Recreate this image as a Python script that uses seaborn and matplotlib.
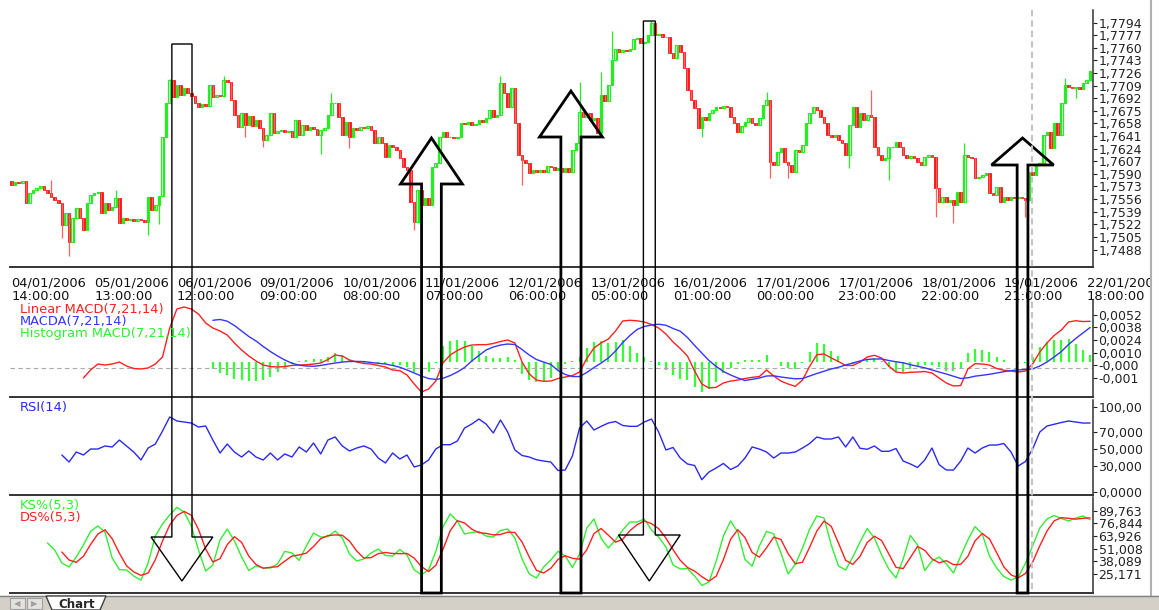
import numpy as np
import pandas as pd
import matplotlib
matplotlib.use("Agg")
import matplotlib.pyplot as plt
import seaborn as sns
from matplotlib.patches import Polygon, Rectangle
from matplotlib.transforms import blended_transform_factory

# hourly candles from 04/01/2006 14:00, one per hour
first_open = 1.7580
closes = [
    1.7575, 1.7579, 1.7578, 1.7580, 1.7551, 1.7564, 1.7568, 1.7571, 1.7574, 1.7568,
    1.7564, 1.7559, 1.7555, 1.7551, 1.7521, 1.7537, 1.7498, 1.7530, 1.7544, 1.7530,
    1.7514, 1.7551, 1.7561, 1.7564, 1.7565, 1.7537, 1.7551, 1.7541, 1.7545, 1.7557,
    1.7524, 1.7530, 1.7528, 1.7529, 1.7526, 1.7529, 1.7528, 1.7525, 1.7559, 1.7541,
    1.7548, 1.7560, 1.7640, 1.7686, 1.7717, 1.7694, 1.7710, 1.7696, 1.7706, 1.7699,
    1.7695, 1.7686, 1.7680, 1.7684, 1.7682, 1.7710, 1.7694, 1.7696, 1.7695, 1.7717,
    1.7714, 1.7690, 1.7669, 1.7653, 1.7672, 1.7656, 1.7668, 1.7655, 1.7663, 1.7652,
    1.7636, 1.7642, 1.7672, 1.7645, 1.7648, 1.7649, 1.7646, 1.7648, 1.7640, 1.7663,
    1.7642, 1.7656, 1.7649, 1.7653, 1.7650, 1.7642, 1.7649, 1.7652, 1.7669, 1.7686,
    1.7686, 1.7667, 1.7642, 1.7660, 1.7640, 1.7652, 1.7649, 1.7653, 1.7652, 1.7655,
    1.7649, 1.7632, 1.7640, 1.7632, 1.7613, 1.7629, 1.7626, 1.7622, 1.7611, 1.7599,
    1.7595, 1.7552, 1.7525, 1.7568, 1.7548, 1.7557, 1.7548, 1.7599, 1.7605, 1.7640,
    1.7646, 1.7640, 1.7640, 1.7638, 1.7640, 1.7659, 1.7657, 1.7660, 1.7656, 1.7657,
    1.7663, 1.7660, 1.7665, 1.7676, 1.7667, 1.7669, 1.7713, 1.7699, 1.7680, 1.7706,
    1.7659, 1.7615, 1.7609, 1.7605, 1.7591, 1.7595, 1.7592, 1.7595, 1.7592, 1.7600,
    1.7599, 1.7595, 1.7598, 1.7592, 1.7598, 1.7592, 1.7622, 1.7632, 1.7673, 1.7667,
    1.7672, 1.7663, 1.7665, 1.7645, 1.7696, 1.7688, 1.7710, 1.7744, 1.7758, 1.7754,
    1.7757, 1.7756, 1.7758, 1.7772, 1.7773, 1.7767, 1.7768, 1.7777, 1.7794, 1.7777,
    1.7779, 1.7775, 1.7775, 1.7753, 1.7746, 1.7764, 1.7754, 1.7733, 1.7703, 1.7690,
    1.7679, 1.7652, 1.7667, 1.7663, 1.7672, 1.7676, 1.7680, 1.7679, 1.7682, 1.7680,
    1.7667, 1.7659, 1.7646, 1.7655, 1.7660, 1.7665, 1.7659, 1.7656, 1.7665, 1.7683,
    1.7690, 1.7606, 1.7602, 1.7619, 1.7625, 1.7606, 1.7602, 1.7592, 1.7622, 1.7619,
    1.7629, 1.7659, 1.7672, 1.7680, 1.7676, 1.7667, 1.7659, 1.7642, 1.7640, 1.7642,
    1.7636, 1.7632, 1.7615, 1.7656, 1.7680, 1.7653, 1.7672, 1.7663, 1.7669, 1.7667,
    1.7626, 1.7615, 1.7609, 1.7611, 1.7626, 1.7626, 1.7633, 1.7626, 1.7615, 1.7611,
    1.7614, 1.7611, 1.7606, 1.7602, 1.7613, 1.7615, 1.7613, 1.7571, 1.7552, 1.7559,
    1.7552, 1.7555, 1.7548, 1.7565, 1.7552, 1.7615, 1.7613, 1.7611, 1.7584, 1.7586,
    1.7588, 1.7591, 1.7564, 1.7561, 1.7572, 1.7552, 1.7559, 1.7555, 1.7559, 1.7557,
    1.7559, 1.7557, 1.7555, 1.7592, 1.7588, 1.7602, 1.7605, 1.7642, 1.7646, 1.7625,
    1.7659, 1.7642, 1.7686, 1.7710, 1.7707, 1.7706, 1.7707, 1.7704, 1.7713, 1.7717,
    1.7729,
]
# the long wicks
highs = {11: 1.7582, 29: 1.7568, 44: 1.7718, 59: 1.7722, 89: 1.7699, 136: 1.7722,
         158: 1.7714, 164: 1.7727, 167: 1.7783, 178: 1.7796, 210: 1.7700,
         239: 1.7703, 265: 1.7632, 293: 1.7719}
lows = {14: 1.7503, 16: 1.7479, 38: 1.7507, 41: 1.7522, 65: 1.7640, 70: 1.7626,
        86: 1.7617, 94: 1.7625, 112: 1.7514, 142: 1.7575, 192: 1.7640, 211: 1.7584,
        216: 1.7584, 233: 1.7598, 244: 1.7582, 257: 1.7532, 262: 1.7524,
        282: 1.7532, 296: 1.7692}

# indicators, read every second candle
step = 2
macd_start = 10
macd_e4 = [
    -18.3, -9.4, -2.8, -3.9, -2.8, -0.6, -5.0, -7.8, -8.3, -7.2,
    -2.8, 5.0, 37.2, 58.3, 60.6, 58.3, 52.8, 42.8, 37.2, 33.9,
    29.4, 20.6, 12.8, 6.1, 0.6, -3.9, -5.6, -6.1, -5.6, -4.4,
    -3.9, -3.6, -2.8, -1.7, 2.2, 7.2, 6.1, 1.7, -0.6, -2.2,
    -2.8, -4.4, -6.1, -9.4, -10.2, -15.0, -25.0, -33.9, -30.6, -21.7,
    -1.7, 7.2, 12.2, 16.1, 18.3, 18.7, 18.7, 20.0, 22.2, 23.9,
    20.6, -0.6, -13.9, -20.6, -22.0, -21.7, -18.9, -17.2, -15.6, -11.7,
    3.3, 15.0, 20.6, 25.0, 33.9, 45.0, 45.8, 45.2, 43.9, 41.1,
    37.2, 30.6, 21.7, 14.4, 6.1, -10.6, -25.0, -29.4, -28.7, -23.9,
    -21.7, -20.6, -18.9, -17.6, -16.7, -9.4, -16.1, -21.7, -25.0, -27.6,
    -20.6, -5.3, 7.6, 8.3, 3.9, 0.0, -4.4, -4.4, -0.6, 5.0,
    6.9, 3.9, -5.0, -11.7, -12.8, -12.0, -11.7, -11.1, -12.8, -18.3,
    -23.9, -27.2, -26.7, -8.3, -2.4, -2.8, -3.9, -7.8, -9.7, -10.6,
    -11.7, -10.6, -2.8, 10.6, 20.6, 28.9, 35.0, 43.9, 45.3, 44.4, 44.7,
]
signal_start = 28
signal_e4 = [
    45.8, 46.7,
    44.8, 40.0, 33.9, 27.8, 22.8, 16.7, 11.1, 6.1, 1.7, -1.9,
    -4.1, -5.0, -5.3, -4.4, -3.0, -1.7, -0.6, 0.0, 0.1, -0.1,
    -1.1, -2.0, -2.8, -4.4, -6.4, -9.4, -12.8, -16.1, -18.9, -20.0,
    -18.7, -15.6, -11.7, -6.7, 0.6, 6.7, 12.8, 16.1, 18.3, 19.4,
    18.9, 13.3, 7.2, 2.2, -0.6, -3.3, -10.0, -14.4, -16.7, -16.7,
    -12.2, -6.7, -1.7, 3.9, 11.7, 21.1, 28.9, 35.6, 38.9, 40.6,
    41.4, 40.3, 36.7, 33.6, 26.7, 17.8, 9.4, 1.1, -5.6, -11.1,
    -15.0, -18.3, -21.1, -19.8, -18.3, -16.1, -15.9, -17.2, -18.3, -19.2,
    -18.9, -16.1, -13.3, -10.8, -8.3, -6.4, -3.9, -1.7, 0.6, 2.3,
    2.8, 2.8, 1.1, -0.3, -1.4, -3.6, -5.3, -7.0, -9.4, -11.7,
    -13.9, -16.4, -18.9, -18.1, -16.3, -15.3, -14.2, -12.8, -11.3, -10.1,
    -9.4, -8.9, -8.3, -5.0, -0.6, 5.0, 11.1, 18.9, 25.6, 31.7, 37.8,
]
rsi_start = 7
rsi = [
    43.2, 34.9, 46.7,
    43.2, 50.2, 50.2, 53.8, 52.6, 60.8, 53.8, 46.7, 37.3, 51.4,
    56.1, 71.4, 87.9, 83.2, 82.0, 80.8, 76.1, 77.3, 60.8, 45.5,
    56.1, 46.7, 40.8, 47.9, 40.8, 37.3, 45.5, 37.3, 44.4, 40.8,
    52.6, 46.7, 57.3, 44.4, 60.8, 64.4, 53.8, 47.9, 51.4, 53.8,
    50.2, 39.6, 33.8, 45.5, 38.5, 43.2, 29.1, 31.4, 37.3, 50.2,
    55.3, 55.3, 59.6, 74.9, 79.6, 85.5, 79.6, 69.1, 84.4, 70.2,
    49.1, 42.6, 40.8, 37.6, 36.1, 34.9, 24.9, 25.5, 42.0, 74.9,
    83.2, 72.6, 76.9, 80.8, 82.6, 77.9, 76.9, 76.9, 82.0, 85.5,
    70.2, 49.1, 52.0, 39.6, 32.6, 30.8, 14.1, 23.2, 27.9, 33.2,
    26.1, 30.2, 39.6, 52.6, 50.2, 46.7, 39.6, 45.5, 45.5, 46.7,
    51.4, 56.7, 64.4, 62.0, 62.0, 64.4, 52.6, 64.4, 51.1, 49.9,
    53.8, 47.5, 47.5, 50.8, 36.1, 32.6, 28.5, 37.3, 51.4, 31.8,
    25.5, 25.5, 36.1, 51.4, 45.5, 51.4, 54.9, 54.9, 56.7, 46.7,
    30.2, 35.5, 50.2, 70.2, 77.3, 79.4, 81.4, 83.2, 82.0, 80.8, 80.8,
]
k_start = 5
ks = [
    56.8, 49.7, 36.4, 32.3, 42.5,
    54.8, 68.7, 74.2, 68.0, 41.5, 29.6, 29.3, 23.1, 19.0, 36.4,
    63.9, 76.2, 85.4, 93.2, 88.4, 74.2, 49.7, 28.2, 34.4, 59.9,
    71.1, 58.8, 42.5, 28.7, 33.3, 31.3, 31.3, 35.4, 48.3, 46.6,
    39.0, 53.7, 67.0, 62.9, 63.2, 69.0, 61.9, 45.6, 38.4, 40.5,
    46.6, 50.7, 44.1, 43.5, 50.2, 44.6, 29.3, 24.5, 29.3, 48.1,
    73.1, 86.4, 79.3, 66.0, 67.5, 68.5, 63.9, 62.9, 69.6, 71.1,
    61.9, 40.5, 25.2, 21.1, 32.3, 39.5, 48.3, 43.5, 31.8, 45.6,
    72.1, 81.3, 61.4, 51.7, 59.9, 70.1, 78.2, 78.2, 81.3, 70.1,
    62.9, 52.7, 34.4, 30.3, 30.8, 23.1, 13.5, 17.0, 38.4, 63.9,
    79.3, 68.0, 40.0, 33.3, 53.7, 68.7, 66.0, 46.6, 25.2, 34.9,
    51.7, 71.1, 84.4, 82.3, 54.8, 33.3, 29.3, 42.5, 57.8, 71.6,
    61.9, 44.6, 30.3, 21.1, 40.5, 64.5, 54.8, 28.7, 38.4, 42.5,
    35.4, 26.2, 43.5, 59.9, 73.6, 66.0, 43.5, 31.3, 22.6, 19.0,
    22.1, 35.9, 53.7, 72.1, 81.3, 84.9, 81.8, 79.3, 82.3, 84.4, 80.6,
]

tick_every = 23
date_labels = [
    "04/01/2006\n14:00:00", "05/01/2006\n13:00:00", "06/01/2006\n12:00:00",
    "09/01/2006\n09:00:00", "10/01/2006\n08:00:00", "11/01/2006\n07:00:00",
    "12/01/2006\n06:00:00", "13/01/2006\n05:00:00", "16/01/2006\n01:00:00",
    "17/01/2006\n00:00:00", "17/01/2006\n23:00:00", "18/01/2006\n22:00:00",
    "19/01/2006\n21:00:00", "22/01/2006\n18:00:00",
]
price_ticks = [1.7488, 1.7505, 1.7522, 1.7539, 1.7556, 1.7573, 1.7590, 1.7607,
               1.7624, 1.7641, 1.7658, 1.7675, 1.7692, 1.7709, 1.7726, 1.7743,
               1.7760, 1.7777, 1.7794]
macd_ticks = [0.0052, 0.0038, 0.0024, 0.0010, -0.0004, -0.0018]
macd_tick_labels = ["0,0052", "0,0038", "0,0024", "0,0010", "-0,000", "-0,001"]
macd_guide = -0.0007
rsi_ticks = [100, 70, 50, 30, 0]
rsi_tick_labels = ["100,00", "70,000", "50,000", "30,000", "0,0000"]
stoch_ticks = [89.763, 76.844, 63.926, 51.008, 38.089, 25.171]

# ---- prepare frames
c = np.array(closes)
o = np.r_[first_open, c[:-1]]
idx = np.arange(len(c))
hi = np.maximum(o, c)
lo = np.minimum(o, c)
for i, v in highs.items():
    hi[i] = max(hi[i], v)
for i, v in lows.items():
    lo[i] = min(lo[i], v)
up = c >= o

macd = pd.DataFrame({"x": (macd_start + np.arange(len(macd_e4))) * step,
                     "v": np.array(macd_e4) * 1e-4})
sig = pd.DataFrame({"x": (signal_start + np.arange(len(signal_e4))) * step,
                    "v": np.array(signal_e4) * 1e-4})
hist = sig.merge(macd, on="x", suffixes=("_s", "_m"))
hist["h"] = hist["v_m"] - hist["v_s"]
rsi_df = pd.DataFrame({"x": (rsi_start + np.arange(len(rsi))) * step, "v": rsi})
stoch = pd.DataFrame({"x": (k_start + np.arange(len(ks))) * step, "k": ks})
stoch["d"] = stoch["k"].rolling(3).mean()

# ---- figure
sns.set_style("white")
plt.rcParams['font.family'] = ['DejaVu Sans']

W, H = 1159, 610
fig = plt.figure(figsize=(W / 100, H / 100), dpi=100, facecolor="white")


def panel(top, bottom, left=10, right=1093):
    return fig.add_axes([left / W, 1 - bottom / H, (right - left) / W, (bottom - top) / H])


def style(ax, ticks, labels):
    ax.set_xlim(-0.42, 300.8)
    ax.spines["left"].set_visible(False)
    ax.spines["top"].set_visible(False)
    ax.spines["bottom"].set_color("#333333")
    ax.spines["bottom"].set_linewidth(1.4)
    ax.spines["right"].set_color("#333333")
    ax.spines["right"].set_linewidth(1.1)
    ax.yaxis.tick_right()
    ax.set_yticks(ticks, labels=labels)
    ax.tick_params(axis="y", direction="out", length=3, width=0.8, pad=1,
                   labelsize=9, colors="#222222")
    ax.set_xticks(idx[::tick_every])
    ax.tick_params(axis="x", direction="inout", length=8, width=1.2,
                   colors="#333333", labelsize=9.4, pad=3)
    ax.set_xlabel("")
    ax.set_ylabel("")
    ax.grid(False)


ax_p = panel(10, 267)
ax_m = panel(300, 397)
ax_r = panel(400, 495)
ax_s = panel(497, 593)

# candles
green, red = "#22ee22", "#ff1111"
ax_p.vlines(idx[up], lo[up], hi[up], color=green, lw=0.9)
ax_p.vlines(idx[~up], lo[~up], hi[~up], color="#ff6060", lw=0.9)
ax_p.bar(idx[up], (c - o)[up], bottom=o[up], width=0.72, facecolor="white",
         edgecolor=green, linewidth=0.9)
ax_p.bar(idx[~up], (c - o)[~up], bottom=o[~up], width=0.72, color=red,
         edgecolor=red, linewidth=0.6)
ax_p.set_ylim(1.74644, 1.78111)
style(ax_p, price_ticks, [f"{t:.4f}".replace(".", ",") for t in price_ticks])
ax_p.set_xticks(idx[::tick_every], labels=date_labels)
for t in ax_p.get_xticklabels():
    t.set_horizontalalignment("left")
    t.set_linespacing(1.0)
    t.set_color("#111111")

# MACD
ax_m.vlines(hist["x"], 0, hist["h"], color="#33ff33", lw=1.6, zorder=1)
ax_m.axhline(macd_guide, color="#aaaaaa", ls=(0, (4, 3)), lw=0.8, zorder=1)
sns.lineplot(data=macd, x="x", y="v", ax=ax_m, color="#ff2020", lw=1, zorder=3)
sns.lineplot(data=sig, x="x", y="v", ax=ax_m, color="#3535ff", lw=1, zorder=3)
ax_m.set_ylim(-0.003944, 0.006833)
style(ax_m, macd_ticks, macd_tick_labels)
ax_m.set_xticklabels([])

# RSI
sns.lineplot(data=rsi_df, x="x", y="v", ax=ax_r, color="#2a2aee", lw=1)
ax_r.set_ylim(-3.9, 107.9)
style(ax_r, rsi_ticks, rsi_tick_labels)
ax_r.set_xticklabels([])

# stochastic
sns.lineplot(data=stoch, x="x", y="k", ax=ax_s, color="#33ee33", lw=1)
sns.lineplot(data=stoch, x="x", y="d", ax=ax_s, color="#ff2020", lw=1)
ax_s.set_ylim(5.78, 103.74)
style(ax_s, stoch_ticks, [f"{t:.3f}".replace(".", ",") for t in stoch_ticks])
ax_s.set_xticklabels([])

# panel captions
def caption(x, y, s, col):
    fig.text(x / W, 1 - y / H, s, color=col, fontsize=9.4, va="center", ha="left")


caption(20, 309, "Linear MACD(7,21,14)", "#ff2020")
caption(20, 321, "MACDA(7,21,14)", "#3535ff")
caption(20, 334, "Histogram MACD(7,21,14)", "#33ee33")
caption(20, 408, "RSI(14)", "#2a2aee")
caption(20, 505, "KS%(5,3)", "#33ee33")
caption(20, 517, "DS%(5,3)", "#ff2020")

# overlay: arrows drawn over every panel (x in candles, y in pixels)
ax_o = fig.add_axes([0, 0, 1, 1], facecolor="none")
ax_o.set_xlim(0, W)
ax_o.set_ylim(H, 0)
ax_o.axis("off")
tr = blended_transform_factory(ax_p.transData, ax_o.transData)

# (centre candle, shaft half width, head half width, tip y, head base y, shaft end y, lw)
arrows = [
    (47.4, 2.8, 8.6, 581, 537, 44, 1.0),
    (116.8, 2.75, 8.6, 138, 184, 593, 2.0),
    (155.6, 2.8, 8.75, 91, 137, 593, 2.0),
    (177.4, 1.65, 8.6, 581, 535, 21, 1.0),
    (281.2, 1.5, 8.65, 138, 165, 593, 2.0),
]
for cx, sw, hw, tip, base, end, lw in arrows:
    pts = [(cx - sw, end), (cx - sw, base), (cx - hw, base), (cx, tip),
           (cx + hw, base), (cx + sw, base), (cx + sw, end)]
    ax_o.add_patch(Polygon(pts, closed=True, fill=False, ec="black", lw=lw,
                           joinstyle="miter", transform=tr, clip_on=False))

# cursor line
ax_o.plot([283.8, 283.8], [10, 593], color="#c4c4c4", ls=(0, (3, 2)), lw=1.5,
          transform=tr)

# window border and tab strip
ax_o.add_patch(Rectangle((1152, 0), 8, 596, color="white", zorder=5))
ax_o.plot([1151, 1151], [0, 596], color="#b0b0b0", lw=1.5, zorder=6)
ax_o.add_patch(Rectangle((0, 596), W, 14, color="#d4d0c8", zorder=5))
ax_o.plot([0, W], [596, 596], color="#808080", lw=1, zorder=6)
for bx, g in [(10, "\u25c0"), (27, "\u25b6")]:
    ax_o.add_patch(Rectangle((bx, 598), 15, 11, fc="#e4e2dc", ec="#a0a0a0", lw=0.8, zorder=6))
    ax_o.text(bx + 7.5, 604, g, fontsize=6, color="#a0a0a0", ha="center", va="center", zorder=7)
ax_o.add_patch(Polygon([(46, 596), (52, 610), (100, 610), (106, 596)], closed=True,
                       fc="white", ec="#404040", lw=1, zorder=6))
ax_o.text(58, 604, "Chart", fontsize=8.5, fontweight="bold", va="center", zorder=7)

fig.savefig("out.png", dpi=100, facecolor="white")
